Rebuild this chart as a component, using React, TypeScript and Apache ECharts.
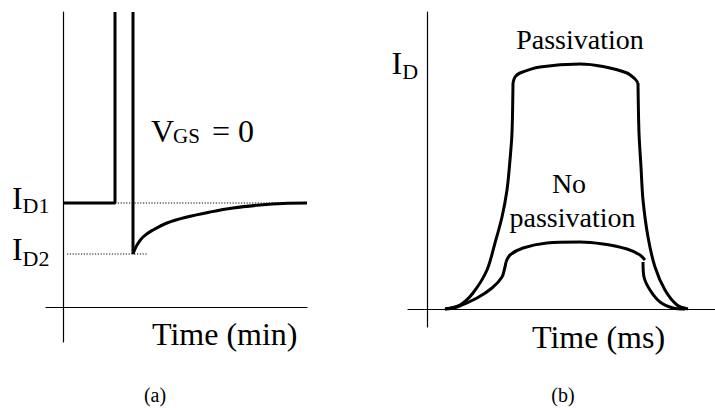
import React, { useEffect, useRef } from "react";
import * as echarts from "echarts";

// ---------- Panel (a): drain current vs time (min), arbitrary units ----------
const aRangeX = [-17, 244];
const aRangeY = [-35, 295];
const ID1 = 104;
const ID2 = 53;
const aPulseTop = 295;
const aStepX = 52;
const aDropX = 70;
const aBefore = [[0, ID1], [aStepX, ID1], [aStepX, aPulseTop]];
const aDrop = [[aDropX, aPulseTop], [aDropX, ID2]];
const aRecovery = [
  [70, 53], [72, 58], [74, 62], [80, 70], [90, 77], [104, 84], [124, 90],
  [147, 95], [170, 99], [197, 102], [220, 103.6], [244, 104],
];
const aDotID1 = [[aStepX, ID1], [244, ID1]];
const aDotID2 = [[4, ID2], [85, ID2]];

// ---------- Panel (b): drain current vs time (ms), arbitrary units ----------
const bRangeX = [-19, 288];
const bRangeY = [-18, 297];
const passLeft = [
  [18, 0], [33, 4], [46, 16], [60, 39], [68, 66], [75, 92], [80, 119],
  [83, 149], [85, 176], [86, 226],
];
const passTop = [
  [86, 226], [88, 232], [93, 236], [113, 242], [153, 245], [176, 242.5],
  [200, 236], [208, 230], [211, 226],
];
const passRight = [
  [211, 226], [212, 176], [214, 142], [216, 109], [221, 72], [228, 42],
  [238, 19], [250, 4], [261, 0],
];
const noLeft = [[18, 0], [30, 2], [50, 11], [65, 21], [75, 32], [78, 42], [79, 47]];
const noTop = [
  [79, 47], [83, 54], [96, 61], [120, 66], [153, 67], [176, 65], [200, 60],
  [213, 54], [218, 49],
];
const noRight = [[216, 47], [217, 32], [223, 19], [233, 7], [246, 1], [258, 0]];

const FONT = "Liberation Serif";
const C = (f: number) => 0.3375 * f; // central-to-baseline offset

function txt(text: string, x: number, baseline: number, size: number, align = "left") {
  return {
    type: "text",
    x,
    y: Math.round(baseline - C(size)),
    silent: true,
    style: {
      text: "{t|" + text + "}",
      fontSize: size,
      fontFamily: FONT,
      fontWeight: "normal",
      fontStyle: "normal",
      fill: "#000",
      align,
      verticalAlign: "middle",
      rich: {
        t: { fontSize: size, fontFamily: FONT, fontWeight: "normal", fontStyle: "normal", fill: "#000" },
      },
    },
  };
}

function curve(gi: number, data: number[][], smooth: number | boolean = 0.3) {
  return {
    type: "line",
    xAxisIndex: gi,
    yAxisIndex: gi,
    data,
    symbol: "none",
    smooth,
    silent: true,
    lineStyle: { color: "#000", width: 3 },
    z: 3,
  };
}

function dotted(gi: number, data: number[][]) {
  return {
    type: "line",
    xAxisIndex: gi,
    yAxisIndex: gi,
    data,
    symbol: "none",
    silent: true,
    lineStyle: { color: "#000", width: 1, type: [1.2, 1.6] },
    z: 2,
  };
}

function axis(gi: number, range: number[]) {
  return {
    gridIndex: gi,
    type: "value",
    min: range[0],
    max: range[1],
    axisLine: { show: true, onZero: true, lineStyle: { color: "#000", width: 1.2 } },
    axisTick: { show: false },
    axisLabel: { show: false },
    splitLine: { show: false },
  };
}

export default function App() {
  const ref = useRef<HTMLDivElement>(null);
  useEffect(() => {
    if (!ref.current) return;
    const chart = echarts.init(ref.current, null, { renderer: "svg" });
    chart.setOption({
      animation: false,
      backgroundColor: "#fff",
      textStyle: { fontFamily: FONT },
      grid: [
        { left: 46, right: 408, top: 12, bottom: 66 },
        { left: 408, right: 0, top: 12, bottom: 81 },
      ],
      xAxis: [axis(0, aRangeX), axis(1, bRangeX)],
      yAxis: [axis(0, aRangeY), axis(1, bRangeY)],
      series: [
        dotted(0, aDotID1),
        dotted(0, aDotID2),
        curve(0, aBefore, false),
        curve(0, aDrop, false),
        curve(0, aRecovery, 0.4),
        curve(1, passLeft),
        curve(1, passTop),
        curve(1, passRight),
        curve(1, noLeft),
        curve(1, noTop),
        curve(1, noRight),
      ],
      graphic: [
        txt("I", 12, 208.5, 32),
        txt("D1", 22.5, 212.7, 22),
        txt("I", 12, 260, 32),
        txt("D2", 22.5, 265, 22),
        txt("V", 151, 141.7, 32),
        txt("GS", 173, 143.5, 21),
        txt("= 0", 212, 141.7, 32),
        txt("Time (min)", 152, 345, 32),
        txt("(a)", 155, 401.5, 20, "center"),
        txt("I", 391.5, 74, 32),
        txt("D", 402.2, 78.5, 22),
        txt("Passivation", 580, 48, 28, "center"),
        txt("No", 569, 192.5, 28, "center"),
        txt("passivation", 572.5, 226, 28, "center"),
        txt("Time (ms)", 532, 347.5, 32),
        txt("(b)", 563, 401.5, 20, "center"),
      ],
    });
    return () => chart.dispose();
  }, []);
  return (
    <div
      ref={ref}
      style={{ position: "absolute", left: 0, top: 0, width: 715, height: 408, background: "#fff" }}
    />
  );
}
